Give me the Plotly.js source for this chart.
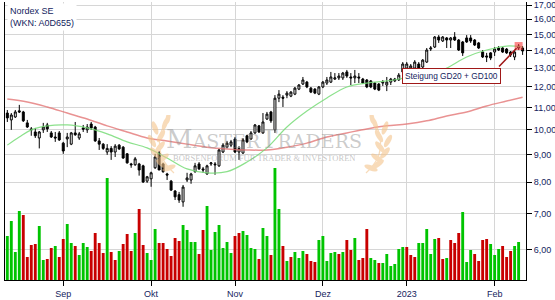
<!DOCTYPE html>
<html><head><meta charset="utf-8">
<script src="https://cdn.plot.ly/plotly-3.0.1.min.js"></script>
<style>html,body{margin:0;padding:0;background:#fff}#c{width:555px;height:300px}</style>
</head><body><div id="c"></div>
<script>
// trading-day index 0 = 12 Aug 2022 ... 129 = 10 Feb 2023
const monthTickIdx = [14, 36, 57, 79, 100, 122];
const monthTickText = ["Sep", "Okt", "Nov", "Dez", "2023", "Feb"];
const priceTicks = [6,7,8,9,10,11,12,13,14,15,16,17];

const open = [10.74,10.43,10.56,10.84,10.79,10.30,10.04,9.91,9.66,10.00,10.21,9.87,9.70,9.87,9.45,9.62,9.41,9.87,9.66,10.08,
10.00,10.25,10.12,9.54,9.41,9.10,9.24,9.10,9.37,9.29,9.03,8.65,8.62,8.65,8.58,8.04,8.12,8.51,9.06,8.65,
8.29,8.04,7.71,7.59,7.36,8.08,8.08,8.37,8.65,8.47,8.29,8.65,8.65,8.58,9.10,9.29,9.37,9.62,9.10,9.06,
9.75,9.62,9.87,10.17,9.87,10.47,10.79,10.00,11.44,11.49,11.59,11.54,11.64,11.89,12.15,12.25,11.94,11.89,11.64,12.00,
12.20,12.25,12.41,12.47,12.47,12.79,12.52,12.47,12.52,12.41,12.36,12.31,12.20,12.15,12.20,12.10,12.25,12.31,12.36,12.79,
13.00,13.00,13.00,13.23,13.06,13.34,14.10,14.22,14.84,14.59,14.78,14.65,14.84,14.65,14.53,14.78,14.78,14.65,14.47,13.92,
13.69,13.87,13.92,14.16,14.16,14.10,13.92,13.63,14.16,14.16];
const high = [10.88,10.74,10.88,11.12,10.84,10.43,10.12,10.08,9.95,10.30,10.30,9.95,9.91,9.95,9.50,9.87,9.91,10.34,9.91,10.21,
10.25,10.34,10.17,9.66,9.45,9.41,9.33,9.41,9.41,9.33,9.06,8.69,8.91,8.69,8.62,8.22,8.37,9.03,9.14,8.69,
8.33,8.08,7.74,7.68,7.91,8.33,8.33,8.69,8.72,8.54,8.62,8.72,8.72,9.22,9.45,9.54,9.58,9.70,9.33,9.66,
9.79,9.95,10.25,10.21,10.74,10.79,10.84,11.59,11.84,11.59,11.79,11.79,12.00,12.15,12.52,12.31,12.00,11.94,12.05,12.31,
12.52,12.79,12.73,12.73,12.79,12.90,12.73,12.90,12.73,12.47,12.41,12.36,12.25,12.20,12.36,12.52,12.47,12.47,12.73,13.34,
13.34,13.23,13.45,13.34,13.51,14.16,14.28,14.90,14.96,14.90,14.84,14.84,15.15,14.71,14.59,14.96,14.96,14.71,14.53,14.04,
13.87,13.92,14.22,14.28,14.22,14.16,13.98,14.04,14.40,14.28];
const low = [10.34,10.00,10.52,10.74,10.34,10.08,9.75,9.66,9.24,9.87,9.91,9.66,9.50,9.54,9.03,9.29,9.37,9.75,9.58,9.91,
9.87,10.00,9.50,9.18,9.18,8.99,8.80,8.91,9.18,8.84,8.66,8.51,8.58,8.23,7.98,7.98,7.85,8.47,8.43,8.33,
8.08,7.71,7.42,7.33,7.21,8.01,7.95,8.33,8.43,8.33,8.26,8.58,8.26,8.54,9.06,9.24,9.29,9.06,8.80,9.03,
9.45,9.58,9.83,9.87,9.83,10.43,10.30,9.87,11.25,11.02,11.44,11.49,11.59,11.84,12.10,11.94,11.69,11.64,11.59,11.94,
12.10,12.20,12.36,12.36,12.36,12.47,12.10,12.20,12.20,12.15,11.94,11.94,11.84,11.79,12.05,11.79,12.10,12.25,12.31,12.73,
12.90,12.90,12.96,12.90,13.00,13.29,13.98,14.16,14.47,14.53,14.16,14.16,14.59,13.98,13.69,14.47,14.47,14.28,14.10,13.57,
13.34,13.45,13.69,13.98,13.87,13.81,13.63,13.45,14.04,13.75];
const close = [10.52,10.65,10.79,10.79,10.39,10.12,10.00,9.75,9.91,10.12,10.04,9.70,9.66,9.58,9.14,9.70,9.87,9.79,9.83,10.03,
10.12,10.08,9.54,9.41,9.24,9.24,9.10,9.33,9.22,8.87,8.69,8.62,8.84,8.43,8.01,8.19,8.33,8.91,8.43,8.37,
8.25,7.74,7.52,7.42,7.84,8.15,8.29,8.58,8.47,8.43,8.58,8.69,8.62,9.18,9.37,9.45,9.50,9.10,9.24,9.58,
9.50,9.87,10.21,9.91,10.34,10.69,10.39,11.44,11.64,11.44,11.69,11.74,11.94,12.10,12.36,12.00,11.74,11.69,12.00,12.25,
12.36,12.52,12.47,12.57,12.73,12.57,12.47,12.57,12.47,12.20,12.00,12.00,11.89,11.84,12.25,12.25,12.41,12.41,12.62,13.23,
13.23,13.12,13.34,13.00,13.45,14.04,14.16,14.84,14.65,14.84,14.65,14.78,14.65,14.04,13.87,14.53,14.59,14.34,14.16,13.63,
13.63,13.57,14.10,14.04,13.92,13.87,13.75,13.92,14.28,13.98];

// volume in million shares, 1 = rising bar (green), 0 = falling bar (red)
const volume = [1.76,2.36,1.12,2.76,2.60,0.92,1.40,1.44,2.16,0.80,0.84,1.28,1.36,0.92,1.64,2.24,1.48,1.36,1.00,1.48,
1.32,1.16,1.88,1.48,1.08,4.08,1.12,0.80,1.16,1.44,1.84,1.16,1.88,2.84,1.40,1.08,0.80,2.04,1.48,1.48,
1.24,0.96,1.68,1.56,2.20,2.00,1.52,1.52,1.04,2.00,2.96,1.20,1.92,2.20,1.28,1.52,1.08,1.76,1.88,1.96,
1.80,1.28,1.24,0.84,2.08,1.76,1.00,4.48,2.84,1.36,0.76,0.92,1.12,0.88,1.16,1.04,0.76,0.72,1.60,1.76,
0.76,1.08,1.12,1.04,1.12,1.60,1.20,1.68,0.80,0.88,2.04,0.88,0.80,0.68,0.68,1.04,0.56,0.64,1.24,1.32,
1.32,1.00,0.92,1.48,1.48,2.04,1.04,1.64,1.68,0.84,0.88,1.60,1.48,1.88,2.72,0.72,1.20,1.04,0.76,1.60,
1.64,1.44,1.00,1.24,1.36,0.92,1.16,1.36,1.52,null];
const volumeUp = [1,1,1,1,0,0,0,0,1,1,0,0,1,0,0,1,1,0,1,1,
1,0,0,0,0,1,0,0,1,0,0,0,1,0,0,1,1,1,0,0,
0,0,0,0,1,1,1,1,0,0,1,1,1,1,1,1,1,0,0,1,
1,1,1,0,1,1,0,1,1,0,1,0,1,1,1,0,0,0,1,1,
1,1,1,0,1,0,0,1,0,0,0,1,1,0,1,1,1,1,1,1,
0,0,0,1,1,1,1,1,0,0,1,0,0,0,1,1,1,0,0,0,
0,1,1,1,0,0,0,1,1,1];

// moving averages read at sample positions
const gd100Idx = [0,5,10,15,20,25,30,35,40,45,50,55,60,65,70,75,80,85,90,95,100,105,110,115,120,125,129];
const gd100 = [11.40,11.26,11.02,10.74,10.47,10.17,9.91,9.66,9.54,9.41,9.29,9.22,9.18,9.18,9.29,9.45,9.70,9.87,10.04,10.17,10.25,10.39,10.61,10.79,11.07,11.30,11.49];
const gd20Idx = [0,3,6,10,15,20,25,30,35,40,45,50,55,60,65,70,75,80,85,90,95,100,105,110,115,120,125,129];
const gd20 = [9.37,9.70,10.00,10.17,10.21,10.08,9.83,9.50,9.26,8.87,8.47,8.33,8.37,8.72,9.26,10.12,10.83,11.45,12.00,12.20,12.31,12.47,12.57,13.00,13.63,14.04,14.28,14.22];

const idx = open.map((_, i) => i);
const markIdx = 128;

const txtCol = '#14245e';
const fam = 'Liberation Sans, Arial, sans-serif';

// laurel decoration (watermark logo)
function laurel(mirror){
  const leaves = [
    [23,53,7,2.6,-20],[16,49,7,2.6,35],
    [17,43,7,2.6,-35],[9,38,7,2.6,50],
    [14,32,7,2.6,-50],[6,26,7,2.6,60],
    [15,21,7,2.6,-60],[9,13,7,2.6,70],
    [19,9,6.5,2.4,-70],[22,3,6,2.3,-80]
  ];
  let s = '<svg xmlns="http://www.w3.org/2000/svg" width="40" height="60" viewBox="0 0 40 60">';
  s += '<g' + (mirror ? ' transform="translate(40,0) scale(-1,1)"' : '') + ' fill="#f4c48c">';
  s += '<path d="M28 58 Q2 35 22 2" stroke="#f4c48c" stroke-width="1.2" fill="none"/>';
  leaves.forEach(l => { s += '<ellipse cx="'+l[0]+'" cy="'+l[1]+'" rx="'+l[2]+'" ry="'+l[3]+'" transform="rotate('+l[4]+' '+l[0]+' '+l[1]+')"/>'; });
  s += '</g></svg>';
  return 'data:image/svg+xml;charset=utf-8,' + encodeURIComponent(s);
}

const traces = [
  {type:'bar', x: idx, y: volume, yaxis:'y2', width:0.72,
   marker:{color: volumeUp.map(u => u ? '#00c400' : '#c80000'), line:{width:0}},
   hoverinfo:'skip', showlegend:false},
  {type:'scatter', mode:'lines', x: gd100Idx, y: gd100, line:{color:'rgba(225,110,110,0.75)', width:1.5, shape:'spline'}, showlegend:false, hoverinfo:'skip'},
  {type:'scatter', mode:'lines', x: gd20Idx, y: gd20, line:{color:'rgba(120,220,120,0.85)', width:1.2, shape:'spline'}, showlegend:false, hoverinfo:'skip'},
  {type:'candlestick', x: idx, open, high, low, close, whiskerwidth:0,
   increasing:{line:{color:'#000', width:1}, fillcolor:'#ffffff'},
   decreasing:{line:{color:'#000', width:1}, fillcolor:'#000000'},
   showlegend:false, hoverinfo:'skip'},
  {type:'scatter', mode:'markers', x:[markIdx], y:[close[markIdx]],
   marker:{symbol:'square', size:8, color:'rgba(250,60,60,0.6)'}, showlegend:false, hoverinfo:'skip'}
];

const layout = {
  width:555, height:300,
  margin:{l:5, r:29, t:2, b:20},
  paper_bgcolor:'#fff', plot_bgcolor:'#fff',
  separators:',.',
  showlegend:false,
  font:{family:fam, size:9, color:txtCol},
  xaxis:{type:'linear', range:[-0.58, 129.85], tickvals: monthTickIdx, ticktext: monthTickText,
    ticks:'outside', ticklen:5, tickcolor:'#000', showline:true, linecolor:'#000', linewidth:1,
    showgrid:true, gridcolor:'#d6d6d6', zeroline:false, rangeslider:{visible:false},
    tickfont:{family:fam, size:9, color:txtCol}},
  yaxis:{type:'log', side:'right', range:[Math.log10(5.281), Math.log10(17.22)],
    tickvals: priceTicks, tickformat:'.2f',
    ticks:'outside', ticklen:5, tickcolor:'#000', showline:true, mirror:true, linecolor:'#000', linewidth:1,
    showgrid:true, gridcolor:'#d6d6d6', zeroline:false,
    tickfont:{family:fam, size:9, color:txtCol}},
  yaxis2:{overlaying:'y', range:[0, 11.12], visible:false, fixedrange:true},
  images:[
    {source: laurel(false), xref:'paper', yref:'paper', x:(146-5)/521, y:1-(115-2)/278,
     sizex:40/521, sizey:60/278, xanchor:'left', yanchor:'top', sizing:'stretch', opacity:0.6, layer:'above'},
    {source: laurel(true), xref:'paper', yref:'paper', x:(354-5)/521, y:1-(115-2)/278,
     sizex:40/521, sizey:60/278, xanchor:'left', yanchor:'top', sizing:'stretch', opacity:0.6, layer:'above'}
  ],
  annotations:[
    {xref:'paper', yref:'paper', x:0.004, y:0.995, xanchor:'left', yanchor:'top', align:'left',
     text:'Nordex SE<br>(WKN: A0D655)', showarrow:false, bgcolor:'#fff', borderpad:2,
     font:{family:fam, size:9, color:txtCol}},
    {xref:'paper', yref:'paper', x:0.497, y:0.507, xanchor:'center', yanchor:'middle', showarrow:false,
     text:'M<span style="font-size:19px">ASTER</span>T<span style="font-size:19px">RADERS</span>',
     font:{family:'DejaVu Serif, Liberation Serif, serif', size:26, color:'rgba(140,140,140,0.45)'}},
    {xref:'paper', yref:'paper', x:0.497, y:0.439, xanchor:'center', yanchor:'middle', showarrow:false,
     text:'BÖRSENFORUM FÜR TRADER &amp; INVESTOREN',
     font:{family:'Liberation Serif, serif', size:8.5, color:'rgba(140,140,140,0.5)'}},
    {xref:'x', yref:'y', x: markIdx, y: Math.log10(close[markIdx]), ax:-21, ay:22, text:'',
     showarrow:true, arrowhead:0, arrowwidth:1.5, arrowcolor:'#a01818', standoff:3},
    {xref:'x', yref:'y', x: markIdx, y: Math.log10(close[markIdx]), xshift:-67.5, yshift:-29.5,
     text:'Steigung GD20 + GD100', showarrow:false, bgcolor:'#fff', bordercolor:'#a01818', borderwidth:1, borderpad:2,
     font:{family:fam, size:8.3, color:txtCol}}
  ]
};

Plotly.newPlot('c', traces, layout, {staticPlot:true, displayModeBar:false});
</script></body></html>
